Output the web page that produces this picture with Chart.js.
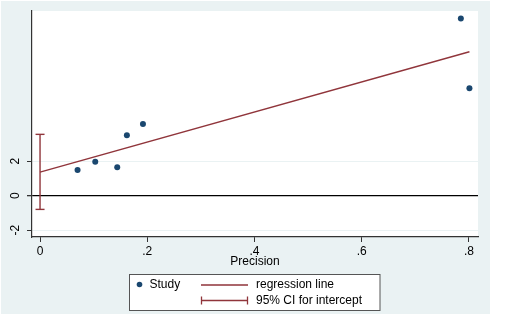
<!DOCTYPE html>
<html>
<head>
<meta charset="utf-8">
<script src="https://cdn.jsdelivr.net/npm/chart.js@4"></script>
<style>
  html, body { margin: 0; padding: 0; background: #fff; }
  #wrap { width: 510px; height: 318px; }
</style>
</head>
<body>
<div id="wrap"><canvas id="chart" width="510" height="318"></canvas></div>
<script>
// values
const studyPrecision = [0.070, 0.103, 0.144, 0.162, 0.192, 0.785, 0.801];
const studyEffect = [1.49, 1.97, 1.65, 3.51, 4.16, 10.28, 6.23];
const regressionX = [0, 0.801];
const regressionY = [1.37, 8.35];
const ciX = [0, 0];
const ciY = [-0.79, 3.56];
const xTicks = [0, 0.2, 0.4, 0.6, 0.8];
const xTickLabels = ['0', '.2', '.4', '.6', '.8'];
const yTicks = [-2, 0, 2];
const yTickLabels = ['-2', '0', '2'];

const navy = '#1a476f';
const maroon = '#90353b';
const paper = '#eaf2f3';
const FONT = '"Liberation Sans", Arial, sans-serif';

const pts = (xs, ys) => xs.map((x, i) => ({ x, y: ys[i] }));

// Stata style background, rotated y labels and the boxed legend
const stataDecor = {
  id: 'stataDecor',
  beforeDraw(chart) {
    const { ctx, chartArea: a } = chart;
    ctx.save();
    ctx.fillStyle = '#fff';
    ctx.fillRect(0, 0, chart.width, chart.height);
    ctx.fillStyle = paper;
    ctx.fillRect(1, 1, 489, 313);
    ctx.fillStyle = '#fff';
    ctx.fillRect(a.left, a.top, a.right - a.left, a.bottom - a.top);
    ctx.restore();
  },
  afterDraw(chart) {
    const { ctx } = chart;
    const y = chart.scales.y;
    ctx.save();
    ctx.fillStyle = '#000';
    ctx.font = '12px ' + FONT;
    ctx.textAlign = 'center';
    ctx.textBaseline = 'middle';
    yTicks.forEach((v, i) => {
      ctx.save();
      ctx.translate(16, y.getPixelForValue(v));
      ctx.rotate(-Math.PI / 2);
      ctx.fillText(yTickLabels[i], 0, 0);
      ctx.restore();
    });

    // legend
    const ds = chart.data.datasets;
    ctx.fillStyle = '#fff';
    ctx.fillRect(129.5, 274.5, 250.5, 36);
    ctx.strokeStyle = '#555';
    ctx.lineWidth = 1;
    ctx.strokeRect(129.5, 274.5, 250.5, 36);

    ctx.fillStyle = navy;
    ctx.beginPath();
    ctx.arc(139.5, 284.5, 2.8, 0, Math.PI * 2);
    ctx.fill();

    ctx.strokeStyle = maroon;
    ctx.lineWidth = 1.3;
    ctx.beginPath();
    ctx.moveTo(201, 285); ctx.lineTo(248, 285);
    ctx.moveTo(201, 300.5); ctx.lineTo(248, 300.5);
    ctx.moveTo(201.5, 296.5); ctx.lineTo(201.5, 304.5);
    ctx.moveTo(247.5, 296.5); ctx.lineTo(247.5, 304.5);
    ctx.stroke();

    ctx.fillStyle = '#000';
    ctx.textAlign = 'left';
    ctx.textBaseline = 'middle';
    ctx.fillText(ds[0].label, 149.5, 284.5);
    ctx.fillText(ds[1].label, 256, 285);
    ctx.fillText(ds[2].label, 256, 300.5);
    ctx.restore();
  }
};

new Chart(document.getElementById('chart'), {
  type: 'scatter',
  data: {
    datasets: [
      {
        label: 'Study',
        data: pts(studyPrecision, studyEffect),
        backgroundColor: navy,
        borderColor: navy,
        pointRadius: 3,
        pointBorderWidth: 0,
      },
      {
        label: 'regression line',
        data: pts(regressionX, regressionY),
        showLine: true,
        borderColor: maroon,
        borderWidth: 1.4,
        pointRadius: 0,
      },
      {
        label: '95% CI for intercept',
        data: pts(ciX, ciY),
        showLine: true,
        borderColor: maroon,
        borderWidth: 1.4,
        pointStyle: 'line',
        pointRadius: 4.5,
        pointBorderColor: maroon,
        pointBorderWidth: 1.4,
      }
    ]
  },
  options: {
    responsive: false,
    animation: false,
    events: [],
    layout: { padding: { left: 0, top: 11, right: 32, bottom: 50 } },
    plugins: { legend: { display: false }, tooltip: { enabled: false } },
    scales: {
      x: {
        type: 'linear',
        min: -0.015,
        max: 0.817,
        afterBuildTicks: s => { s.ticks = xTicks.map(v => ({ value: v })); },
        afterFit: s => { s.height = 31; },
        grid: { drawOnChartArea: false, tickLength: 5, tickColor: '#333' },
        border: { color: '#333', width: 1.2 },
        ticks: {
          padding: 2,
          color: '#000',
          font: { family: FONT, size: 12 },
          callback: (v, i) => xTickLabels[i]
        },
        title: {
          display: true,
          text: 'Precision',
          color: '#000',
          font: { family: FONT, size: 12, lineHeight: 1 },
          padding: { top: 0, bottom: 0 }
        }
      },
      y: {
        type: 'linear',
        min: -2.39,
        max: 10.71,
        afterBuildTicks: s => { s.ticks = yTicks.map(v => ({ value: v })); },
        afterFit: s => { s.width = 32; },
        grid: {
          color: c => (c.tick && c.tick.value === 0 ? '#000' : paper),
          lineWidth: c => (c.tick && c.tick.value === 0 ? 1.3 : 1),
          tickColor: '#333',
          tickLength: 5
        },
        border: { color: '#333', width: 1.2 },
        ticks: { display: false }
      }
    }
  },
  plugins: [stataDecor]
});
</script>
</body>
</html>
